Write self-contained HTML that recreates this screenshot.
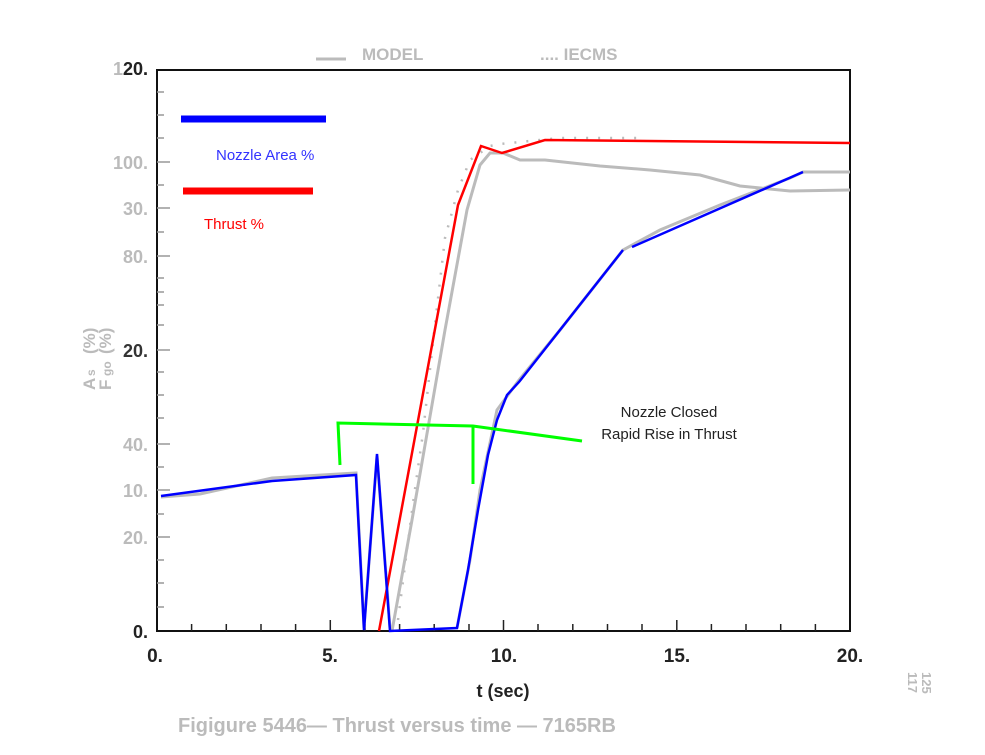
<!DOCTYPE html>
<html><head><meta charset="utf-8"><style>
body{margin:0;background:#fff;width:985px;height:750px;overflow:hidden}
text{font-family:"Liberation Sans",sans-serif}
</style></head><body>
<svg width="985" height="750" viewBox="0 0 985 750" xmlns="http://www.w3.org/2000/svg">
<line x1="316" y1="59" x2="346" y2="59" stroke="#bbb" stroke-width="3"/>
<text x="362" y="60" font-size="17" font-weight="bold" fill="#bbb">MODEL</text>
<text x="540" y="60" font-size="17" font-weight="bold" fill="#bbb">.... IECMS</text>
<rect x="157" y="70" width="693" height="561" fill="none" stroke="#111" stroke-width="2"/>
<g stroke="#222" stroke-width="1.5">
<line x1="191.6" y1="631" x2="191.6" y2="624"/><line x1="226.3" y1="631" x2="226.3" y2="624"/><line x1="261" y1="631" x2="261" y2="624"/><line x1="295.6" y1="631" x2="295.6" y2="624"/><line x1="330.3" y1="631" x2="330.3" y2="620"/>
<line x1="365" y1="631" x2="365" y2="624"/><line x1="399.6" y1="631" x2="399.6" y2="624"/><line x1="434.2" y1="631" x2="434.2" y2="624"/><line x1="469" y1="631" x2="469" y2="624"/><line x1="503.5" y1="631" x2="503.5" y2="620"/>
<line x1="538" y1="631" x2="538" y2="624"/><line x1="572.8" y1="631" x2="572.8" y2="624"/><line x1="607.5" y1="631" x2="607.5" y2="624"/><line x1="642" y1="631" x2="642" y2="624"/><line x1="676.8" y1="631" x2="676.8" y2="620"/>
<line x1="711.4" y1="631" x2="711.4" y2="624"/><line x1="746" y1="631" x2="746" y2="624"/><line x1="780.7" y1="631" x2="780.7" y2="624"/><line x1="815.4" y1="631" x2="815.4" y2="624"/>
</g>
<g stroke="#999" stroke-width="1.5">
<line x1="157" y1="162" x2="170" y2="162"/><line x1="157" y1="208" x2="170" y2="208"/><line x1="157" y1="256" x2="170" y2="256"/><line x1="157" y1="350" x2="170" y2="350"/><line x1="157" y1="444" x2="170" y2="444"/><line x1="157" y1="490" x2="170" y2="490"/><line x1="157" y1="537" x2="170" y2="537"/>
<line x1="157" y1="92" x2="164" y2="92"/><line x1="157" y1="115" x2="164" y2="115"/><line x1="157" y1="138" x2="164" y2="138"/><line x1="157" y1="185" x2="164" y2="185"/><line x1="157" y1="232" x2="164" y2="232"/>
<line x1="157" y1="278" x2="164" y2="278"/><line x1="157" y1="292" x2="164" y2="292"/><line x1="157" y1="305" x2="164" y2="305"/><line x1="157" y1="325" x2="164" y2="325"/><line x1="157" y1="372" x2="164" y2="372"/><line x1="157" y1="395" x2="164" y2="395"/><line x1="157" y1="418" x2="164" y2="418"/>
<line x1="157" y1="467" x2="164" y2="467"/><line x1="157" y1="514" x2="164" y2="514"/><line x1="157" y1="560" x2="164" y2="560"/><line x1="157" y1="583" x2="164" y2="583"/><line x1="157" y1="607" x2="164" y2="607"/>
</g>
<g font-size="18" font-weight="bold" fill="#bbb" text-anchor="end">
<text x="148" y="75">120.</text><text x="148" y="75" fill="#222">20.</text>
<text x="148" y="169">100.</text><text x="148" y="215">30.</text><text x="148" y="263">80.</text>
<text x="148" y="357" fill="#333">20.</text><text x="148" y="451">40.</text><text x="148" y="497">10.</text>
<text x="148" y="544">20.</text><text x="148" y="638" fill="#222">0.</text>
</g>
<g font-size="17" font-weight="bold" fill="#bbb" transform="translate(95,390) rotate(-90)">
<text x="0" y="0">A</text><text x="14" y="0" font-size="12">s</text>
<text x="0" y="16">F</text><text x="14" y="16" font-size="12">go</text>
<text x="36" y="0">(%)</text><text x="36" y="16">(%)</text>
</g>
<g font-size="19" font-weight="bold" fill="#222" text-anchor="middle">
<text x="155" y="662">0.</text><text x="330" y="662">5.</text><text x="504" y="662">10.</text>
<text x="677" y="662">15.</text><text x="850" y="662">20.</text>
<text x="503" y="697" font-size="18">t  (sec)</text>
</g>
<text x="178" y="732" font-size="20" font-weight="bold" fill="#bbb">Figigure 5446—  Thrust versus time  —  7165RB</text>
<text x="908" y="672" font-size="13" font-weight="bold" fill="#bbb" transform="rotate(90 908 672)">117</text>
<text x="922" y="672" font-size="13" font-weight="bold" fill="#bbb" transform="rotate(90 922 672)">125</text>
<g fill="none" stroke="#bbb" stroke-width="3">
<path d="M161,497 L200,494 L272,478 L356,473 L364,628 L377,456 L390,628"/>
<path d="M392,631 L412,520 L445,330 L467,210 L480,165 L490,153 L503,153 L520,160 L545,160 L600,166 L650,170 L700,175 L740,186 L790,191 L850,190"/>
<path d="M457,628 L470,560 L480,490 L497,410 L519,380 L560,330 L623,250 L660,230 L720,205 L790,178 L803,172 L850,172"/>
</g>
<path d="M398,620 L413,503 L423,433 L434,333 L445,238 L458,190 L470,160 L490,146 L500,144 L560,138 L640,138" fill="none" stroke="#bbb" stroke-width="2.5" stroke-dasharray="2 10"/>
<path d="M379,631 L458,205 L481,146 L502,153 L545,140 L850,143" fill="none" stroke="#f00" stroke-width="2.5"/>
<path d="M161,496 L272,481 L356,475 L364,630 L377,454 L390,631 L457,628 L468,570 L478,510 L488,455 L497,420 L507,395 L519,382 L623,250 M632,247 L803,172" fill="none" stroke="#00f" stroke-width="2.5"/>
<path d="M340,465 L338,423 L473,426 L582,441 M473,426 L473,484" fill="none" stroke="#0f0" stroke-width="3"/>
<line x1="181" y1="119" x2="326" y2="119" stroke="#00f" stroke-width="7"/>
<text x="216" y="160" font-size="15" fill="#3333ff">Nozzle Area %</text>
<line x1="183" y1="191" x2="313" y2="191" stroke="#f00" stroke-width="7"/>
<text x="204" y="229" font-size="15" fill="#f00">Thrust %</text>
<text x="669" y="417" font-size="15" fill="#222" text-anchor="middle">Nozzle Closed</text>
<text x="669" y="439" font-size="15" fill="#222" text-anchor="middle">Rapid Rise in Thrust</text>
</svg>
</body></html>
